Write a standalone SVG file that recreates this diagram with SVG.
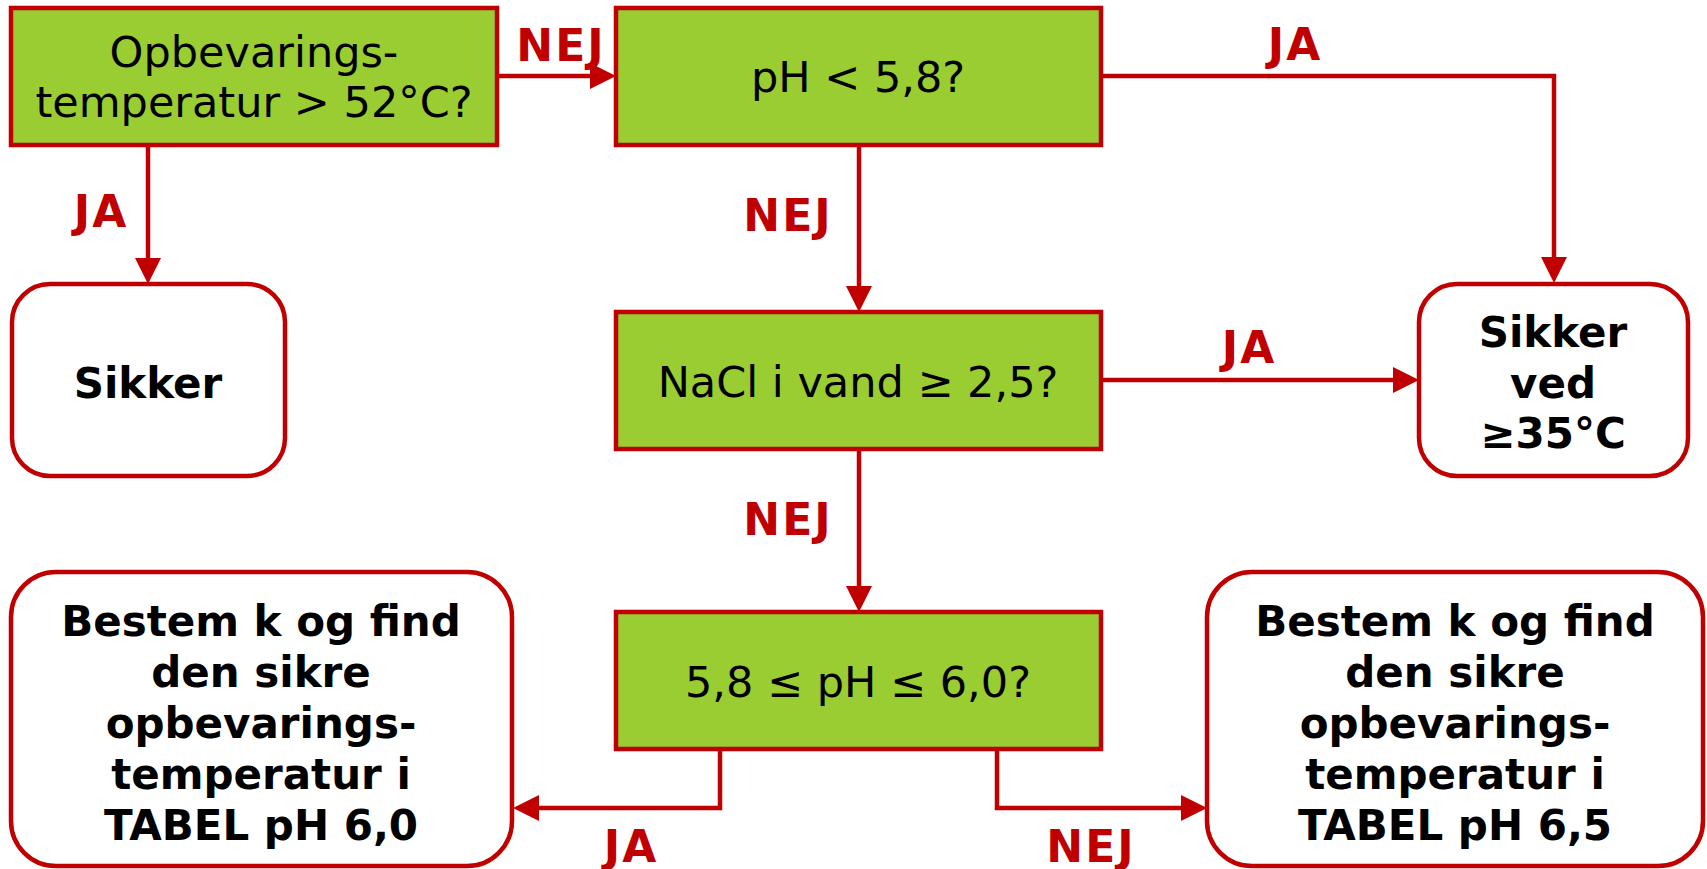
<svg xmlns="http://www.w3.org/2000/svg" width="1707" height="869" viewBox="0 0 1707 869">
<defs>
<style>
.dec{fill:#9ACD32;stroke:#C00000;stroke-width:4.5}
.end{fill:#FFFFFF;stroke:#C00000;stroke-width:4.5}
.t{font-family:"DejaVu Sans",Verdana,sans-serif;font-size:43px;fill:#000;text-anchor:middle}
.b{font-family:"DejaVu Sans",Verdana,sans-serif;font-size:42px;font-weight:bold;fill:#000;text-anchor:middle}
.lbl{font-family:"DejaVu Sans",Verdana,sans-serif;font-size:44px;font-weight:bold;fill:#C00000;text-anchor:middle;letter-spacing:2px}
.c{fill:none;stroke:#C00000;stroke-width:4.5}
</style>
<marker id="ah" viewBox="0 0 26 26" refX="0" refY="13" markerWidth="26" markerHeight="26" markerUnits="userSpaceOnUse" orient="auto">
<path d="M0,0 L26,13 L0,26 z" fill="#C00000"/>
</marker>
</defs>
<rect width="1707" height="869" fill="#FFFFFF"/>
<g id="connectors">
<path class="c" d="M497,76 H590" marker-end="url(#ah)"/>
<path class="c" d="M148,146 V258" marker-end="url(#ah)"/>
<path class="c" d="M1101,76 H1554 V257" marker-end="url(#ah)"/>
<path class="c" d="M859,146 V286" marker-end="url(#ah)"/>
<path class="c" d="M1101,380 H1393" marker-end="url(#ah)"/>
<path class="c" d="M859,449 V586" marker-end="url(#ah)"/>
<path class="c" d="M720,749 V808 H539" marker-end="url(#ah)"/>
<path class="c" d="M997,749 V808 H1181" marker-end="url(#ah)"/>
<text class="lbl" x="561" y="61">NEJ</text>
<text class="lbl" x="101" y="227">JA</text>
<text class="lbl" x="1295" y="60">JA</text>
<text class="lbl" x="788" y="231">NEJ</text>
<text class="lbl" x="1249" y="363">JA</text>
<text class="lbl" x="788" y="535">NEJ</text>
<text class="lbl" x="631" y="862">JA</text>
<text class="lbl" x="1091" y="862">NEJ</text>
</g>
<g id="q1">
<rect class="dec" x="11" y="8" width="486" height="137"/>
<text class="t" x="254" y="67">Opbevarings-</text>
<text class="t" x="254" y="117">temperatur &gt; 52°C?</text>
</g>
<g id="q2">
<rect class="dec" x="616" y="8" width="485" height="137"/>
<text class="t" x="858" y="92">pH &lt; 5,8?</text>
</g>
<g id="q3">
<rect class="dec" x="616" y="312" width="485" height="137"/>
<text class="t" x="858" y="397">NaCl i vand ≥ 2,5?</text>
</g>
<g id="q4">
<rect class="dec" x="616" y="612" width="485" height="137"/>
<text class="t" x="858" y="697">5,8 ≤ pH ≤ 6,0?</text>
</g>
<g id="sikker">
<rect class="end" x="12" y="284" width="273" height="192" rx="38" ry="38"/>
<text class="b" x="148" y="398">Sikker</text>
</g>
<g id="sikker35">
<rect class="end" x="1419" y="284" width="269" height="192" rx="38" ry="38"/>
<text class="b" x="1553" y="347">Sikker</text>
<text class="b" x="1553" y="398">ved</text>
<text class="b" x="1553" y="448">≥35°C</text>
</g>
<g id="tabel60">
<rect class="end" x="11" y="572" width="501" height="294" rx="45" ry="45"/>
<text class="b" x="261" y="636">Bestem k og find</text>
<text class="b" x="261" y="687">den sikre</text>
<text class="b" x="261" y="738">opbevarings-</text>
<text class="b" x="261" y="789">temperatur i</text>
<text class="b" x="261" y="840">TABEL pH 6,0</text>
</g>
<g id="tabel65">
<rect class="end" x="1207" y="572" width="496" height="294" rx="45" ry="45"/>
<text class="b" x="1455" y="636">Bestem k og find</text>
<text class="b" x="1455" y="687">den sikre</text>
<text class="b" x="1455" y="738">opbevarings-</text>
<text class="b" x="1455" y="789">temperatur i</text>
<text class="b" x="1455" y="840">TABEL pH 6,5</text>
</g>
</svg>
